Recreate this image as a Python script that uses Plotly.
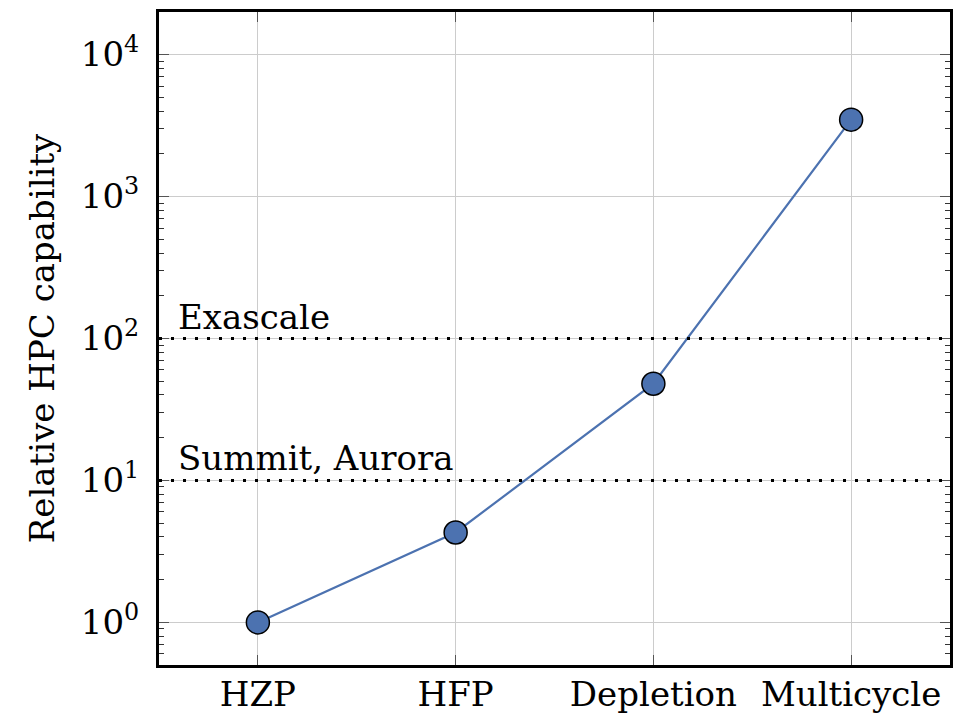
import math
import plotly.graph_objects as go

categories = ["HZP", "HFP", "Depletion", "Multicycle"]
capability = [1.0, 4.3, 48.0, 3480.0]
ref_levels = [10, 100]
ref_labels = ["Summit, Aurora", "Exascale"]
ytick_vals = [1, 10, 100, 1000, 10000]
ytick_text = ["10<sup>0</sup>", "10<sup>1</sup>", "10<sup>2</sup>", "10<sup>3</sup>", "10<sup>4</sup>"]

FONT = "DejaVu Serif"
FS = 34
BLUE = "#4C72B0"

fig = go.Figure()
fig.add_trace(go.Scatter(
    x=list(range(len(categories))), y=capability, mode="lines+markers",
    line=dict(color=BLUE, width=2.2),
    marker=dict(size=23, color=BLUE, line=dict(color="black", width=1.5)),
    showlegend=False,
))

for lvl, lab in zip(ref_levels, ref_labels):
    fig.add_shape(type="line", xref="paper", x0=0, x1=1, yref="y", y0=lvl, y1=lvl,
                  line=dict(color="black", width=3, dash="3px,9px"), layer="above")
    fig.add_annotation(xref="paper", x=0.022, y=math.log10(lvl), yref="y", text=lab,
                       showarrow=False, xanchor="left", yanchor="bottom",
                       font=dict(family=FONT, size=FS, color="black"))

fig.update_layout(
    width=966, height=713,
    margin=dict(l=159, r=16, t=12, b=48),
    paper_bgcolor="white", plot_bgcolor="white",
    font=dict(family=FONT, size=FS, color="black"),
)
fig.update_xaxes(
    tickmode="array", tickvals=list(range(len(categories))), ticktext=categories,
    range=[-0.5, 3.5], showgrid=True, gridcolor="#cccccc", gridwidth=1,
    ticks="inside", ticklen=10, tickcolor="#555555", tickwidth=1,
    showline=True, linecolor="black", linewidth=3, mirror="allticks",
    zeroline=False, tickfont=dict(family=FONT, size=FS), automargin=False,
    ticklabelstandoff=-3,
)
fig.update_yaxes(
    type="log", range=[-0.3, 4.3],
    tickmode="array", tickvals=ytick_vals, ticktext=ytick_text,
    showgrid=True, gridcolor="#cccccc", gridwidth=1,
    ticks="inside", ticklen=10, tickcolor="#555555", tickwidth=1,
    minor=dict(ticks="inside", ticklen=5, tickcolor="#333333", dtick="D1", showgrid=False),
    showline=True, linecolor="black", linewidth=3, mirror="allticks",
    zeroline=False, tickfont=dict(family=FONT, size=FS), automargin=False,
    ticklabelstandoff=10,
    title=dict(text="Relative HPC capability", font=dict(family=FONT, size=FS), standoff=16),
)

fig.write_html("out.html")
